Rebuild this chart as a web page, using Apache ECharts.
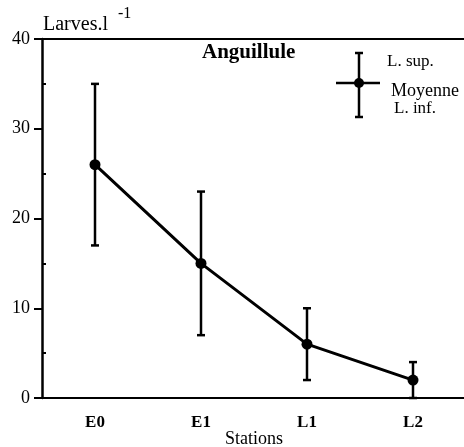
<!DOCTYPE html>
<html><head><meta charset="utf-8">
<script src="https://cdn.jsdelivr.net/npm/echarts@6/dist/echarts.min.js"></script>
<style>html,body{margin:0;padding:0;background:#fff}#c{width:464px;height:447px}</style>
</head><body><div id="c"></div>
<script>
var stations = ['E0', 'E1', 'L1', 'L2'];
var moyenne = [26, 15, 6, 2];
var limSup = [35, 23, 10, 4];
var limInf = [17, 7, 2, 0];
var yTicks = [0, 10, 20, 30, 40];

var FONT = '"Liberation Serif", "DejaVu Serif", serif';
var chart = echarts.init(document.getElementById('c'), null, {renderer: 'canvas'});
var errData = stations.map(function (s, i) { return [i, limInf[i], limSup[i]]; });

chart.setOption({
  animation: false,
  backgroundColor: '#fff',
  grid: {left: 42, right: -2, top: 39, bottom: 49, containLabel: false, outerBoundsMode: 'none'},
  xAxis: [{
    type: 'category', data: stations, boundaryGap: true,
    name: 'Stations', nameLocation: 'middle', nameGap: 32, nameMoveOverlap: false,
    nameTextStyle: {fontFamily: FONT, fontSize: 18, color: '#000', verticalAlign: 'top'},
    axisLine: {lineStyle: {color: '#000', width: 2}},
    axisTick: {alignWithLabel: true, length: 4, lineStyle: {color: '#000', width: 2}},
    axisLabel: {fontFamily: FONT, fontSize: 17, color: '#000', fontWeight: 'bold', margin: 16}
  }, {
    type: 'category', data: stations, position: 'top',
    axisLine: {show: true, onZero: false, lineStyle: {color: '#000', width: 2}},
    axisTick: {show: false}, axisLabel: {show: false}
  }],
  yAxis: [{
    type: 'value', min: 0, max: 40, interval: 10,
    axisLine: {show: true, lineStyle: {color: '#000', width: 2.5}},
    axisTick: {show: true, length: 8, lineStyle: {color: '#000', width: 2}},
    axisLabel: {fontFamily: FONT, fontSize: 18, color: '#000', margin: 12,
      formatter: function (v) { return yTicks.indexOf(v) >= 0 ? String(v) : ''; }},
    splitLine: {show: false}
  }, {
    type: 'value', min: 0, max: 40, position: 'left', offset: 0,
    axisLine: {show: false},
    axisTick: {show: true, inside: true, length: 4, customValues: [5, 15, 25, 35], lineStyle: {color: '#000', width: 2}},
    axisLabel: {show: false}, splitLine: {show: false}
  }],
  series: [{
    type: 'custom',
    data: errData,
    renderItem: function (params, api) {
      var x = api.value(0);
      var lo = api.coord([x, api.value(1)]);
      var hi = api.coord([x, api.value(2)]);
      var hw = 4;
      var st = {stroke: '#000', lineWidth: 2.5};
      return {type: 'group', children: [
        {type: 'line', shape: {x1: lo[0], y1: lo[1], x2: hi[0], y2: hi[1]}, style: st},
        {type: 'line', shape: {x1: hi[0] - hw, y1: hi[1], x2: hi[0] + hw, y2: hi[1]}, style: st},
        {type: 'line', shape: {x1: lo[0] - hw, y1: lo[1], x2: lo[0] + hw, y2: lo[1]}, style: st}
      ]};
    },
    z: 3
  }, {
    type: 'line', data: moyenne,
    symbol: 'circle', symbolSize: 11,
    lineStyle: {color: '#000', width: 3},
    itemStyle: {color: '#000'},
    z: 4
  }],
  graphic: [
    {type: 'text', left: 43, top: 15, style: {text: 'Larves.l', font: '20px ' + FONT, fill: '#000'}},
    {type: 'text', left: 118, top: 6, style: {text: '-1', font: '16px ' + FONT, fill: '#000'}},
    {type: 'text', left: 202, top: 42, style: {text: 'Anguillule', font: 'bold 21px ' + FONT, fill: '#000'}},
    {type: 'line', shape: {x1: 359, y1: 53, x2: 359, y2: 117}, style: {stroke: '#000', lineWidth: 2.5}},
    {type: 'line', shape: {x1: 355, y1: 53, x2: 363, y2: 53}, style: {stroke: '#000', lineWidth: 2.5}},
    {type: 'line', shape: {x1: 355, y1: 117, x2: 363, y2: 117}, style: {stroke: '#000', lineWidth: 2.5}},
    {type: 'line', shape: {x1: 336, y1: 83, x2: 380, y2: 83}, style: {stroke: '#000', lineWidth: 2.5}},
    {type: 'circle', shape: {cx: 359, cy: 83, r: 5}, style: {fill: '#000'}},
    {type: 'text', left: 387, top: 53, style: {text: 'L. sup.', font: '17px ' + FONT, fill: '#000'}},
    {type: 'text', left: 391, top: 82, style: {text: 'Moyenne', font: '18px ' + FONT, fill: '#000'}},
    {type: 'text', left: 394, top: 100, style: {text: 'L. inf.', font: '17px ' + FONT, fill: '#000'}}
  ]
});
</script></body></html>
